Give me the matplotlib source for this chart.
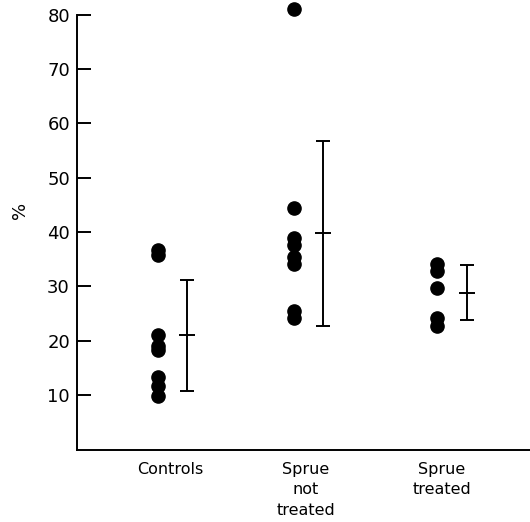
import matplotlib
matplotlib.use("Agg")
import matplotlib.pyplot as plt
import numpy as np

categories = ["Controls", "Sprue\nnot\ntreated", "Sprue\ntreated"]
controls = [36.8, 35.8, 21.1, 19.1, 18.3, 13.4, 11.7, 9.9]
sprue_not_treated = [81.1, 44.5, 39.0, 37.7, 35.5, 34.1, 25.4, 24.2]
sprue_treated = [34.1, 32.9, 29.7, 24.2, 22.8]
means = [21.0, 39.8, 28.8]
lower = [10.7, 22.8, 23.8]
upper = [31.1, 56.7, 33.9]
yticks = [10, 20, 30, 40, 50, 60, 70, 80]

groups = [controls, sprue_not_treated, sprue_treated]
dot_off = [-0.09, -0.09, -0.04]
bar_off = [0.125, 0.125, 0.185]

plt.rcParams['font.family'] = ['DejaVu Sans']
fig = plt.figure(figsize=(5.30, 5.22), dpi=100)
ax = fig.add_axes([0.145, 0.1387, 0.855, 0.8333])

for i, vals in enumerate(groups):
    x = np.full(len(vals), i + 1 + dot_off[i])
    ax.plot(x, vals, 'o', color='black', markersize=9.5, clip_on=False, zorder=3)
    m = means[i]
    ax.errorbar([i + 1 + bar_off[i]], [m],
                yerr=[[m - lower[i]], [upper[i] - m]],
                fmt='_', color='black', markersize=11, mew=1.4,
                elinewidth=1.4, capsize=5, capthick=1.4)

ax.set_xlim(0.316, 3.647)
ax.set_ylim(0, 80)
ax.set_yticks(yticks)
ax.set_yticklabels([str(t) for t in yticks], fontsize=13)
ax.set_xticks([1, 2, 3])
ax.set_xticklabels(categories, fontsize=11.5, va='top', linespacing=1.45)
ax.tick_params(axis='x', length=0, pad=9)
ax.tick_params(axis='y', direction='in', length=10, width=1.4, pad=5)
ax.spines['top'].set_visible(False)
ax.spines['right'].set_visible(False)
ax.spines['left'].set_linewidth(1.4)
ax.spines['bottom'].set_linewidth(1.4)
ax.set_ylabel('%', fontsize=13)
ax.yaxis.set_label_coords(-0.105, 0.55)

fig.savefig("out.png", dpi=100)
